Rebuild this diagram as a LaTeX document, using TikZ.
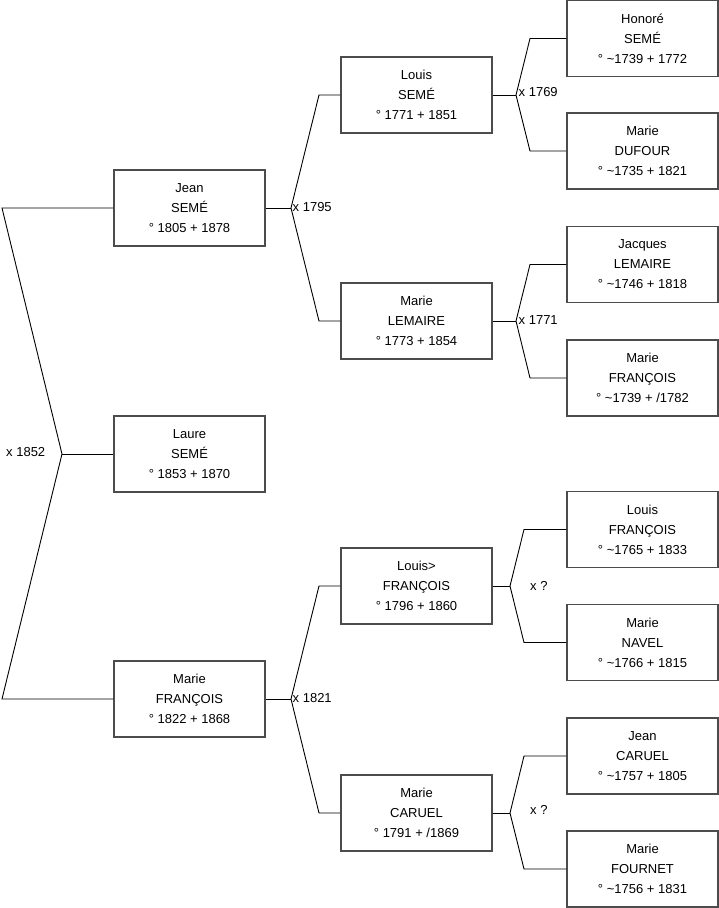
\documentclass[tikz,border=0pt]{standalone}
\usepackage{fontspec}
\setmainfont{Liberation Sans}
\begin{document}
\begin{tikzpicture}[x=1pt,y=-1pt,
  person/.style={draw=black!70, line width=1.1pt, fill=white, minimum width=151pt, minimum height=76pt, inner sep=0pt, align=center, font=\fontsize{13}{20}\selectfont},
  link/.style={draw=black, line width=0.9pt},
  wedlabel/.style={inner sep=0pt, anchor=west, font=\fontsize{13}{15}\selectfont}]
\useasboundingbox (0,0) rectangle (719,908);
% column 1
\node[person] (jean) at (189.5,208) {Jean\\SEMÉ\\° 1805 + 1878};
\node[person] (laure) at (189.5,454) {Laure\\SEMÉ\\° 1853 + 1870};
\node[person] (mfr) at (189.5,699) {Marie\\FRANÇOIS\\° 1822 + 1868};
% column 2
\node[person] (louis) at (416.5,95) {Louis\\SEMÉ\\° 1771 + 1851};
\node[person] (mlem) at (416.5,321) {Marie\\LEMAIRE\\° 1773 + 1854};
\node[person] (lfr) at (416.5,586) {Louis>\\FRANÇOIS\\° 1796 + 1860};
\node[person] (mcar) at (416.5,813) {Marie\\CARUEL\\° 1791 + /1869};
% column 3
\node[person] (honore) at (642.5,38.5) {Honoré\\SEMÉ\\° \textasciitilde1739 + 1772};
\node[person] (mduf) at (642.5,151) {Marie\\DUFOUR\\° \textasciitilde1735 + 1821};
\node[person] (jacq) at (642.5,264.5) {Jacques\\LEMAIRE\\° \textasciitilde1746 + 1818};
\node[person] (mfr2) at (642.5,378) {Marie\\FRANÇOIS\\° \textasciitilde1739 + /1782};
\node[person] (lfr2) at (642.5,529.5) {Louis\\FRANÇOIS\\° \textasciitilde1765 + 1833};
\node[person] (mnav) at (642.5,642.5) {Marie\\NAVEL\\° \textasciitilde1766 + 1815};
\node[person] (jcar) at (642.5,756) {Jean\\CARUEL\\° \textasciitilde1757 + 1805};
\node[person] (mfou) at (642.5,869) {Marie\\FOURNET\\° \textasciitilde1756 + 1831};
% junction coordinates
\coordinate (a1) at (2,208);
\coordinate (a2) at (62,454);
\coordinate (a3) at (2,699);
\coordinate (b1) at (319,95);
\coordinate (b0) at (291,208);
\coordinate (b2) at (319,321);
\coordinate (c1) at (319,586);
\coordinate (c0) at (291,699);
\coordinate (c2) at (319,813);
\coordinate (d1) at (530,38.5);
\coordinate (d0) at (516,95);
\coordinate (d2) at (530,151);
\coordinate (e1) at (530,264.5);
\coordinate (e0) at (516,321);
\coordinate (e2) at (530,378);
\coordinate (f1) at (524,529.5);
\coordinate (f0) at (510,586);
\coordinate (f2) at (524,642.5);
\coordinate (g1) at (524,756);
\coordinate (g0) at (510,813);
\coordinate (g2) at (524,869);
% connectors
\draw[link] (jean.west) -- (a1) -- (a2) -- (a3) -- (mfr.west);
\draw[link] (a2) -- (laure.west);
\draw[link] (louis.west) -- (b1) -- (b0) -- (b2) -- (mlem.west);
\draw[link] (jean.east) -- (b0);
\draw[link] (lfr.west) -- (c1) -- (c0) -- (c2) -- (mcar.west);
\draw[link] (mfr.east) -- (c0);
\draw[link] (honore.west) -- (d1) -- (d0) -- (d2) -- (mduf.west);
\draw[link] (louis.east) -- (d0);
\draw[link] (jacq.west) -- (e1) -- (e0) -- (e2) -- (mfr2.west);
\draw[link] (mlem.east) -- (e0);
\draw[link] (lfr2.west) -- (f1) -- (f0) -- (f2) -- (mnav.west);
\draw[link] (lfr.east) -- (f0);
\draw[link] (jcar.west) -- (g1) -- (g0) -- (g2) -- (mfou.west);
\draw[link] (mcar.east) -- (g0);
% marriage labels
\node[wedlabel] (m1852) at (6,452) {x 1852};
\node[wedlabel] (m1795) at (292.5,207) {x 1795};
\node[wedlabel] (m1821) at (292.5,698) {x 1821};
\node[wedlabel] (m1769) at (518.5,92.5) {x 1769};
\node[wedlabel] (m1771) at (518.5,320) {x 1771};
\node[wedlabel] (mq1) at (530,586) {x ?};
\node[wedlabel] (mq2) at (530,810) {x ?};
\end{tikzpicture}
\end{document}
